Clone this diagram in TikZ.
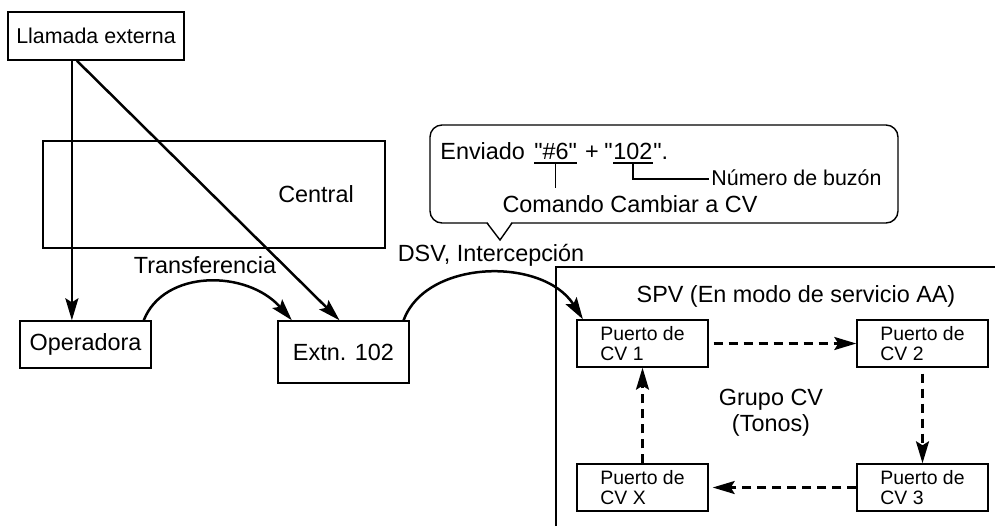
\documentclass[tikz,border=0pt]{standalone}
\usepackage{fontspec}
\setmainfont{Liberation Sans}
\usetikzlibrary{arrows.meta,calc,positioning}

\begin{document}
\begin{tikzpicture}[x=0.5pt, y=-0.5pt,
    bigtxt/.style={font=\fontsize{11.7}{14}\selectfont},
    medtxt/.style={font=\fontsize{10.7}{13}\selectfont},
    block/.style={draw, line width=0.7pt, inner sep=0pt, bigtxt},
    port/.style={draw, line width=0.7pt, inner sep=0pt, align=left,
        minimum width=65.5pt, minimum height=23.5pt,
        font=\fontsize{9.7}{10}\selectfont},
    flow/.style={line width=1.25pt, -{Stealth[length=11pt,width=6.5pt,inset=2pt]}},
    loopflow/.style={flow, dash pattern=on 4.5pt off 3pt},
    uline/.style={line width=0.7pt},
    msg/.style={bigtxt, inner sep=0pt}]
    \useasboundingbox (0,0) rectangle (995,526);

    \node[block, medtxt, minimum width=88pt, minimum height=24pt] (llamada) at (96,36) {Llamada externa};
    \node[block, minimum width=171pt, minimum height=53.5pt] (central) at (214,194.5) {};
    \node[bigtxt, anchor=base] (centraltxt) at (316,202) {Central};
    \node[block, minimum width=65.5pt, minimum height=23.5pt] (operadora) at (85.5,344.5) {Operadora};
    \node[block, minimum width=65.5pt, minimum height=31pt] (extn) at (343.5,352) {Extn. 102};

    \node[bigtxt, anchor=base] (transfer) at (205,273) {Transferencia};
    \node[bigtxt, anchor=base] (dsv) at (491,261) {DSV, Intercepción};

    \draw[line width=0.7pt] (556,526) -- (556,267) -- (995,267);
    \node[bigtxt, anchor=base] (spv) at (796,302) {SPV (En modo de servicio AA)};
    \node[port] (cv1) at (642.5,343.5) {Puerto de\\CV 1};
    \node[port] (cv2) at (922.5,343.5) {Puerto de\\CV 2};
    \node[port] (cv3) at (922.5,487.5) {Puerto de\\CV 3};
    \node[port] (cvx) at (642.5,487.5) {Puerto de\\CV X};
    \node[font=\fontsize{11.7}{13}\selectfont, align=center] (grupo) at (771,413) {Grupo CV\\(Tonos)};

    \node[draw, line width=0.7pt, rounded corners=6pt,
        minimum width=234pt, minimum height=49pt] (bubble) at (664,174) {};
    \fill[white] (487,221) -- (500,240) -- (512,221) -- cycle;
    \draw[line width=0.7pt] (487,223) -- (500,240) -- (512,223);

    \node[msg, anchor=base west] (sent) at (440,159) {Enviado};
    \node[msg, anchor=base west] (q6) at (534,159) {\textquotedbl\#6\textquotedbl};
    \node[msg, anchor=base] (plus) at (592,159) {+};
    \node[msg, anchor=base west] (q102) at (613,159) {102};
    \node[msg, anchor=base east] (open) at (q102.base west) {\textquotedbl};
    \node[msg, anchor=base west] (stop) at (q102.base east) {\textquotedbl.};
    \node[bigtxt, anchor=base] (cmd) at (630,212) {Comando Cambiar a CV};
    \node[medtxt, anchor=base west, inner sep=1pt] (buzon) at (709,185) {Número de buzón};

    \draw[uline] ([yshift=-2pt]q6.base west) -- ([yshift=-2pt]q6.base east);
    \draw[uline] ([yshift=-2pt]q6.base) -- (q6.base |- cmd.north);
    \draw[uline] ([yshift=-2pt]q102.base west) -- ([yshift=-2pt]q102.base east);
    \draw[uline] ([yshift=-2pt]q102.base) |- ([yshift=3pt]buzon.base west);

    \coordinate (drop) at ($(llamada.south west)!0.364!(llamada.south east)$);
    \coordinate (slant) at ($(llamada.south west)!0.392!(llamada.south east)$);
    \draw[flow] (drop) -- (drop |- operadora.north);
    \draw[flow] (slant) -- ($(extn.north west)!0.47!(extn.north east)$);

    \draw[flow] ($(operadora.north west)!0.94!(operadora.north east)$)
        .. controls +(20,-51) and +(-45,-51) .. ($(extn.north west)!0.11!(extn.north east)$);
    \draw[flow] ($(extn.north west)!0.954!(extn.north east)$)
        .. controls +(22,-61) and +(-40,-63) .. ($(cv1.north west)!0.05!(cv1.north east)$);

    \draw[loopflow, shorten <=2.5pt] (cv1.east) -- (cv2.west);
    \draw[loopflow, shorten <=3pt] (cv2.south) -- (cv3.north);
    \draw[loopflow, shorten >=2pt] (cv3.west) -- (cvx.east);
    \draw[loopflow] (cvx.north) -- (cv1.south);
\end{tikzpicture}
\end{document}
